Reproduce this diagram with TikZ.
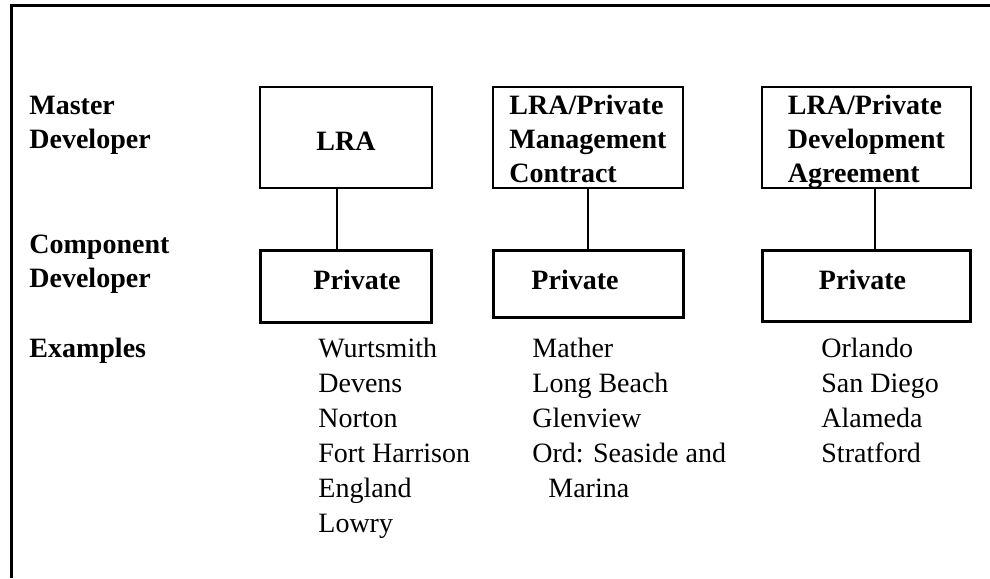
\documentclass[tikz,border=0pt]{standalone}
\usepackage{fontspec}
\setmainfont{Liberation Serif}
\usetikzlibrary{positioning}
\tikzset{
  mstblk/.style={draw,rectangle,line width=1pt,inner sep=0pt,align=left,text depth=0pt,font=\fontsize{14}{17}\selectfont\bfseries},
  cmpblk/.style={draw,rectangle,line width=1.5pt,inner sep=0pt,text height=9.7pt,text depth=6pt,font=\fontsize{14}{17}\selectfont\bfseries},
  lbl/.style={anchor=base west,inner sep=0pt,align=left,font=\fontsize{14}{17}\selectfont\bfseries},
  lst/.style={anchor=base west,inner sep=0pt,align=left,font=\fontsize{14}{17.5}\selectfont},
  conn/.style={line width=0.7pt},
  frame/.style={line width=1.5pt}
}

\begin{document}
\begin{tikzpicture}[x=0.5pt,y=-0.5pt,node distance=29.75pt]
  \useasboundingbox (0,0) rectangle (990,578);
  \draw[frame] (11.5,578) -- (11.5,5.5) -- (990,5.5);

  % row labels (base = last line)
  \node[lbl] (lmaster) at (29,148) {Master\\Developer};
  \node[lbl] (lcomp) at (29,287) {Component\\Developer};
  \node[lbl] (lex) at (29,357) {Examples};

  % master developer
  \node[mstblk,minimum width=86pt,minimum height=50.5pt,text height=12.5pt] (m1) at (346,137.5) {LRA};
  \node[mstblk,minimum width=95pt,minimum height=50.5pt,text height=45pt] (m2) at (588,137.5) {LRA/Private\\Management\\Contract};
  \node[mstblk,minimum width=104.5pt,minimum height=50.5pt,text height=45pt] (m3) at (866.5,137.5) {LRA/Private\\Development\\Agreement};

  % component developer
  \node[cmpblk,minimum width=85.5pt,minimum height=36pt,below=of m1] (c1) {\hspace*{11pt}Private};
  \node[cmpblk,minimum width=95pt,minimum height=33.5pt,text depth=3.7pt,below=of m2] (c2) {Private\hspace*{13pt}};
  \node[cmpblk,minimum width=104pt,minimum height=35.5pt,text depth=5.7pt,below=of m3] (c3) {Private\hspace*{4pt}};

  \draw[conn] ([xshift=-4.5pt]m1.south) -- ([xshift=-4.5pt]c1.north);
  \draw[conn] (m2.south) -- (c2.north);
  \draw[conn] ([xshift=4.25pt]m3.south) -- ([xshift=4.25pt]c3.north);

  % examples
  \node[lst] (ex1) at (318,532) {Wurtsmith\\Devens\\Norton\\Fort Harrison\\England\\Lowry};
  \node[lst] (ex2) at (532,497) {Mather\\Long Beach\\Glenview\\Ord: Seaside and\\\hspace*{8pt}Marina};
  \node[lst] (ex3) at (821,462) {Orlando\\San Diego\\Alameda\\Stratford};
\end{tikzpicture}
\end{document}
